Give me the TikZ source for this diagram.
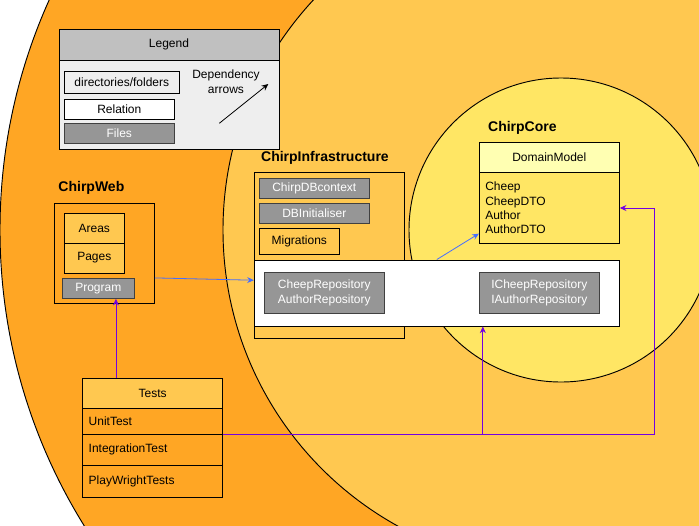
\documentclass[tikz,border=0pt]{standalone}
\usepackage{fontspec}
\setmainfont{Liberation Sans}
\usetikzlibrary{arrows.meta,calc}

\definecolor{webOrange}{RGB}{255,166,36}
\definecolor{infraOrange}{RGB}{255,200,80}
\definecolor{coreYellow}{RGB}{255,230,100}
\definecolor{modelHead}{RGB}{255,255,178}
\definecolor{fileGray}{RGB}{150,150,150}
\definecolor{legendGray}{RGB}{192,192,192}
\definecolor{legendBack}{RGB}{238,238,238}
\definecolor{depBlue}{RGB}{70,110,255}
\definecolor{testPurple}{RGB}{115,0,225}

\begin{document}
\begin{tikzpicture}[x=0.75pt,y=-0.75pt,line width=0.7pt,
    every node/.style={font=\fontsize{9}{11}\selectfont},
    dirbox/.style={draw, fill=infraOrange},
    filebox/.style={draw=black!75, fill=fileGray, text=white},
    title/.style={anchor=west, inner sep=0pt, font=\fontsize{10.5}{12}\selectfont\bfseries},
    row/.style={draw, fill=webOrange, minimum width=105pt, text width=96pt, align=left},
    dep/.style={draw=depBlue, line width=0.6pt, -{Stealth[length=5pt,width=4.5pt]}},
    uses/.style={draw=testPurple, line width=0.6pt, -{Stealth[length=5pt,width=4.5pt]}}]

  % layers
  \begin{scope}
    \clip (0,0) rectangle (699,525);
    \filldraw[fill=webOrange] (561,230) circle[radius=420.75pt];
    \filldraw[fill=infraOrange] (561,230) circle[radius=253.5pt];
    \filldraw[fill=coreYellow] (561,230) circle[radius=114pt];
  \end{scope}
  \useasboundingbox (0,0) rectangle (699,525);

  % legend
  \node[draw, fill=legendGray, minimum width=165pt, minimum height=23.25pt] (legendHead) at (169,44.5) {Legend};
  \node[draw, fill=legendBack, minimum width=165pt, minimum height=66.75pt] (legendBody) at (169,104.5) {};
  \node[draw, fill=legendBack, minimum width=86.25pt, minimum height=16.5pt] (dirs) at (121.8,82.2) {directories/folders};
  \node[draw, fill=white, minimum width=82.5pt, minimum height=15pt] (relation) at (119.3,109.3) {Relation};
  \node[filebox, minimum width=82.5pt, minimum height=15pt] (files) at (119.3,133.3) {Files};
  \node[align=center] (depText) at (226,82) {Dependency\\arrows};
  \coordinate (depFrom) at (219.3,123.3);
  \coordinate (depTo) at (268.3,84);
  \draw[line width=0.6pt, -{Stealth[length=5pt,width=4.5pt]}] (depFrom) -- (depTo);

  % ChirpWeb
  \node[title] (webLabel) at (58,188) {ChirpWeb};
  \node[draw, minimum width=75pt, minimum height=75pt] (webBox) at (104.3,253.3) {};
  \node[dirbox, minimum width=45pt, minimum height=22.5pt] (areas) at (94.3,228) {Areas};
  \node[dirbox, minimum width=45pt, minimum height=22.5pt] (pages) at (94.3,258) {Pages};
  \node[filebox, minimum width=54pt, minimum height=15pt] (program) at (98.3,288.3) {Program};

  % ChirpInfrastructure
  \node[title] (infraLabel) at (260.7,158.3) {ChirpInfrastructure};
  \node[draw, minimum width=112.5pt, minimum height=124.7pt] (infraBox) at (329.3,255.8) {};
  \node[filebox, minimum width=82.5pt, minimum height=15pt] (dbContext) at (314.3,188.3) {ChirpDBcontext};
  \node[filebox, minimum width=82.5pt, minimum height=15pt] (dbInit) at (314.3,213.3) {DBInitialiser};
  \node[dirbox, minimum width=60pt, minimum height=19.3pt] (migrations) at (299.3,241.2) {Migrations};
  \node[draw, fill=white, minimum width=273.75pt, minimum height=49.5pt] (relBox) at (436.8,293) {};
  \node[filebox, align=center, font=\fontsize{9}{11.25}\selectfont, minimum width=90pt, minimum height=30.5pt] (repos) at (324.3,293) {CheepRepository\\AuthorRepository};
  \node[filebox, align=center, font=\fontsize{9}{11.25}\selectfont, minimum width=90pt, minimum height=30.5pt] (iRepos) at (539.3,293) {ICheepRepository\\IAuthorRepository};

  % ChirpCore
  \node[title] (coreLabel) at (487.7,128.3) {ChirpCore};
  \node[draw, fill=modelHead, minimum width=105pt, minimum height=22.5pt] (modelHead) at (549.3,157.7) {DomainModel};
  \node[draw, fill=coreYellow, minimum width=105pt, minimum height=53pt, text width=96pt, align=left, font=\fontsize{9}{10.7}\selectfont] (modelBody) at (549.3,208) {Cheep\\CheepDTO\\Author\\AuthorDTO};

  % Tests
  \node[draw, fill=infraOrange, minimum width=105pt, minimum height=22.7pt] (testHead) at (152.7,393.2) {Tests};
  \node[row, minimum height=19.3pt] (unitTest) at (152.7,421.2) {UnitTest};
  \node[row, minimum height=23.5pt] (integTest) at (152.7,449.7) {IntegrationTest};
  \node[row, minimum height=24.2pt] (playTest) at (152.7,481.5) {PlayWrightTests};

  % dependencies
  \draw[dep] (webBox.-26) -- (relBox.176);
  \draw[dep] (relBox.north) -- (modelBody.200);
  \draw[uses] (testHead.157) -- (testHead.157 |- program.south);
  \draw[uses] (unitTest.south east) -| ($(modelBody.east)+(35,0)$) -- (modelBody.east);
  \draw[uses] ($(iRepos.west |- unitTest.south)+(4,0)$) -- ($(iRepos.west |- relBox.south)+(4,0)$);
\end{tikzpicture}
\end{document}
